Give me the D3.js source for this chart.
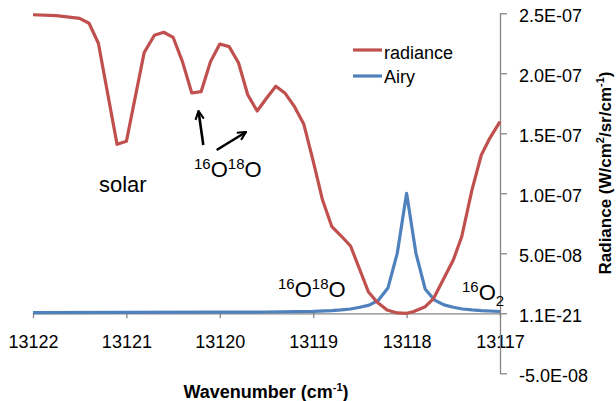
<!DOCTYPE html>
<html><head><meta charset="utf-8">
<script src="https://cdn.jsdelivr.net/npm/d3@7"></script>
<style>
html,body{margin:0;padding:0;background:#fff;}
svg{display:block;font-family:"Liberation Sans",Arial,sans-serif;}
</style></head>
<body>
<svg id="chart" width="616" height="401"></svg>
<script>
// Radiance curve (wavenumber cm-1, W/cm2/sr/cm-1)
const radianceWavenumber = [13122.0,13121.75,13121.5,13121.4,13121.3,13121.1,13121.0,13120.81,13120.7,13120.6,13120.5,13120.4,13120.3,13120.2,13120.1,13120.0,13119.9,13119.8,13119.7,13119.6,13119.5,13119.4,13119.3,13119.2,13119.1,13119.0,13118.9,13118.8,13118.7,13118.6,13118.5,13118.41,13118.32,13118.21,13118.1,13118.0,13117.93,13117.8,13117.71,13117.61,13117.5,13117.41,13117.3,13117.2,13117.11,13117.0];
const radianceValue = [2.488e-7,2.48e-7,2.458e-7,2.417e-7,2.25e-7,1.408e-7,1.433e-7,2.172e-7,2.317e-7,2.342e-7,2.30e-7,2.097e-7,1.836e-7,1.847e-7,2.097e-7,2.244e-7,2.222e-7,2.088e-7,1.819e-7,1.686e-7,1.792e-7,1.892e-7,1.833e-7,1.722e-7,1.575e-7,1.269e-7,9.44e-8,7.22e-8,6.44e-8,5.61e-8,3.61e-8,1.80e-8,9.7e-9,2.75e-9,3e-10,0,1.3e-9,5.5e-9,1.25e-8,2.78e-8,4.44e-8,6.38e-8,1.028e-7,1.319e-7,1.458e-7,1.597e-7];
// Airy function curve
const airyWavenumber = [13122.0,13121.0,13120.0,13119.5,13119.0,13118.8,13118.7,13118.6,13118.5,13118.4,13118.3,13118.2,13118.1,13118.0,13117.9,13117.8,13117.7,13117.6,13117.5,13117.4,13117.3,13117.2,13117.0];
const airyValue = [6e-10,7e-10,9e-10,1.1e-9,1.6e-9,2.2e-9,2.8e-9,3.6e-9,5.0e-9,6.8e-9,1.1e-8,2.1e-8,5.0e-8,1.0e-7,5.0e-8,2.0e-8,1.1e-8,7.0e-9,5.0e-9,3.6e-9,2.8e-9,2.2e-9,1.5e-9];
const seriesNames = ["radiance","Airy"];
const xTickValues = [13122,13121,13120,13119,13118,13117];
const xTickLabels = ["13122","13121","13120","13119","13118","13117"];
const yTickValues = [2.5e-7,2.0e-7,1.5e-7,1.0e-7,5.0e-8,0,-5.0e-8];
const yTickLabels = ["2.5E-07","2.0E-07","1.5E-07","1.0E-07","5.0E-08","1.1E-21","-5.0E-08"];

const svg = d3.select("#chart");
const x = d3.scaleLinear().domain([13122,13117]).range([33,500]);
const y = d3.scaleLinear().domain([-5e-8,2.5e-7]).range([373.3,13.3]);
const red = "#C0504D", blue = "#4F81BD", axisCol = "#868686";

// X axis along zero line
const xAxis = d3.axisBottom(x).tickValues(xTickValues).tickFormat((d,i)=>xTickLabels[i]).tickSize(5).tickSizeOuter(0);
const gx = svg.append("g").attr("transform",`translate(0,${y(0)})`).call(xAxis);
gx.select(".domain").attr("stroke",axisCol).attr("stroke-width",1.3);
gx.selectAll(".tick line").attr("stroke",axisCol).attr("stroke-width",1.3);
gx.selectAll(".tick text").attr("font-size",18).attr("fill","#000").attr("font-family","Liberation Sans, Arial, sans-serif").attr("dy",null).attr("y",35);

// Y axis on right at x=500
const yAxis = d3.axisRight(y).tickValues(yTickValues).tickFormat((d,i)=>yTickLabels[i]).tickSize(7).tickPadding(12).tickSizeOuter(0);
const gy = svg.append("g").attr("transform",`translate(${x(13117)},0)`).call(yAxis);
gy.select(".domain").attr("stroke",axisCol).attr("stroke-width",1.3);
gy.selectAll(".tick line").attr("stroke",axisCol).attr("stroke-width",1.3);
gy.selectAll(".tick text").attr("font-size",18).attr("fill","#000").attr("font-family","Liberation Sans, Arial, sans-serif").attr("dy","0.36em").attr("y",1.5);

// Lines
const line = d3.line().x(d=>x(d[0])).y(d=>y(d[1]));
const airyData = airyWavenumber.map((w,i)=>[w,airyValue[i]]);
const radData = radianceWavenumber.map((w,i)=>[w,radianceValue[i]]);
svg.append("path").datum(airyData).attr("d",line).attr("fill","none").attr("stroke",blue).attr("stroke-width",3.2).attr("stroke-linejoin","round");
svg.append("path").datum(radData).attr("d",line).attr("fill","none").attr("stroke",red).attr("stroke-width",3.2).attr("stroke-linejoin","round");

// Legend
const legend = svg.append("g");
[[red,50,59],[blue,76,83]].forEach((c,i)=>{
  legend.append("line").attr("x1",353).attr("x2",382).attr("y1",c[1]).attr("y2",c[1]).attr("stroke",c[0]).attr("stroke-width",3.2);
  legend.append("text").attr("x",384).attr("y",c[2]).attr("font-size",18).attr("fill","#000").text(seriesNames[i]);
});

// Axis titles
svg.append("text").attr("x",266).attr("y",398).attr("text-anchor","middle").attr("font-size",18).attr("font-weight","bold")
  .call(t=>{t.append("tspan").text("Wavenumber (cm");t.append("tspan").attr("font-size",11).attr("dy",-7).text("-1");t.append("tspan").attr("dy",7).text(")");});
svg.append("text").attr("transform","translate(611,173) rotate(-90)").attr("text-anchor","middle").attr("font-size",17).attr("font-weight","bold")
  .call(t=>{t.append("tspan").text("Radiance (W/cm");t.append("tspan").attr("font-size",11).attr("dy",-7).text("2");t.append("tspan").attr("dy",7).text("/sr/cm");t.append("tspan").attr("font-size",11).attr("dy",-7).text("-1");t.append("tspan").attr("dy",7).text(")");});

// Annotations
const ann = svg.append("g").attr("font-size",22).attr("fill","#000");
ann.append("text").attr("x",99).attr("y",192).text("solar");
function isotope(g,x0,y0){
  const t=g.append("text").attr("x",x0).attr("y",y0);
  t.append("tspan").attr("font-size",15).attr("dy",-8).text("16");
  t.append("tspan").attr("dy",8).text("O");
  t.append("tspan").attr("font-size",15).attr("dy",-8).text("18");
  t.append("tspan").attr("dy",8).text("O");
}
isotope(ann,194,177);
isotope(ann,278,297);
const t2=ann.append("text").attr("x",462).attr("y",300);
t2.append("tspan").attr("font-size",15).attr("dy",-8).text("16");
t2.append("tspan").attr("dy",8).text("O");
t2.append("tspan").attr("font-size",15).attr("dy",6).text("2");

// Arrows
const defs = svg.append("defs");
defs.append("marker").attr("id","ah").attr("viewBox","0 0 10 10").attr("refX",9).attr("refY",5)
  .attr("markerWidth",4).attr("markerHeight",4).attr("orient","auto")
  .append("path").attr("d","M1,1 L9,5 L1,9").attr("fill","none").attr("stroke","#000").attr("stroke-width",2);
svg.append("line").attr("x1",203.3).attr("y1",145).attr("x2",198.5).attr("y2",111).attr("stroke","#000").attr("stroke-width",2.6).attr("marker-end","url(#ah)");
svg.append("line").attr("x1",216.7).attr("y1",150).attr("x2",246).attr("y2",132).attr("stroke","#000").attr("stroke-width",2.6).attr("marker-end","url(#ah)");
</script>
</body></html>
